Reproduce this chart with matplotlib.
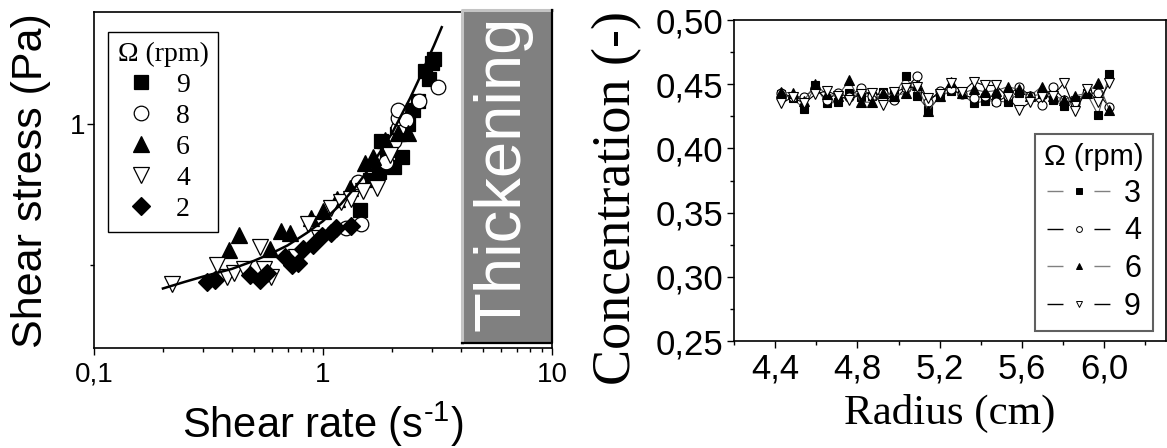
#!/usr/bin/python
# two panel figure: flow curve (left) and concentration profiles (right)
import numpy as np
import matplotlib as mpl
mpl.use('Agg')
import matplotlib.pyplot as plt
from matplotlib.lines import Line2D
from matplotlib.patches import Rectangle
from matplotlib.ticker import FixedLocator, FixedFormatter, NullFormatter, LogLocator

plt.rcParams['font.family'] = ['Liberation Sans', 'DejaVu Sans']
plt.rcParams['mathtext.fontset'] = 'custom'
plt.rcParams['mathtext.rm'] = 'Liberation Sans'

# ---- left panel data: shear stress vs shear rate ----
rate_9 = [1.45, 1.6, 1.75, 1.79, 1.9, 2.04, 2.1, 2.21, 2.34, 2.48, 2.6, 2.78, 2.9, 3.0, 3.05]
tau_9 = [0.655, 0.76, 0.79, 0.92, 0.88, 0.81, 0.95, 0.85, 1.0, 1.07, 1.12, 1.30, 1.25, 1.35, 1.38]
rate_8 = [1.26, 1.42, 1.47, 1.89, 2.05, 2.12, 2.13, 2.13, 2.3, 2.63, 3.18]
tau_8 = [0.60, 0.75, 0.61, 0.83, 0.92, 0.98, 1.03, 1.07, 1.02, 1.12, 1.20]
rate_6 = [0.39, 0.43, 0.585, 0.655, 0.72, 0.89, 1.0, 1.15, 1.31, 1.53, 1.65, 1.86, 2.12, 2.34]
tau_6 = [0.538, 0.58, 0.54, 0.59, 0.585, 0.63, 0.65, 0.69, 0.73, 0.825, 0.85, 0.924, 0.955, 0.955]
rate_4 = [0.218, 0.343, 0.38, 0.41, 0.45, 0.53, 0.55, 0.59, 0.76, 0.86, 0.96, 1.08, 1.2, 1.32, 1.5, 1.72, 1.96]
tau_4 = [0.455, 0.50, 0.47, 0.48, 0.49, 0.545, 0.49, 0.47, 0.52, 0.61, 0.57, 0.66, 0.68, 0.69, 0.72, 0.73, 0.86]
rate_2 = [0.311, 0.337, 0.48, 0.53, 0.57, 0.68, 0.73, 0.78, 0.82, 0.90, 0.99, 1.08, 1.14, 1.33]
tau_2 = [0.46, 0.465, 0.475, 0.465, 0.48, 0.52, 0.50, 0.505, 0.54, 0.55, 0.575, 0.585, 0.60, 0.605]

# fitted curve
fit_rate = [0.20, 0.25, 0.30, 0.40, 0.50, 0.60, 0.70, 0.85, 1.0, 1.2, 1.4, 1.6, 1.8, 2.0, 2.2, 2.4, 2.6, 2.8, 3.05, 3.3]
fit_tau = [0.445, 0.46, 0.472, 0.49, 0.51, 0.53, 0.55, 0.585, 0.62, 0.675, 0.738, 0.805, 0.88, 0.955, 1.045, 1.135, 1.234, 1.34, 1.47, 1.61]

left_labels = ['9', '8', '6', '4', '2']
x1_ticks = [0.1, 1, 10]
x1_ticklabels = ['0,1', '1', '10']
y1_ticks = [1]
y1_ticklabels = ['1']

# ---- right panel data: concentration vs radius ----
radius = [4.43, 4.485, 4.54, 4.595, 4.65, 4.705, 4.76, 4.815, 4.87, 4.925,
          4.98, 5.035, 5.09, 5.145, 5.2, 5.255, 5.31, 5.365, 5.42, 5.475,
          5.53, 5.585, 5.64, 5.695, 5.75, 5.805, 5.86, 5.915, 5.97, 6.025]
conc_3 = [0.442, 0.439, 0.431, 0.449, 0.435, 0.436, 0.443, 0.440, 0.441, 0.444,
          0.442, 0.456, 0.441, 0.430, 0.440, 0.445, 0.442, 0.435, 0.437, 0.437,
          0.436, 0.443, 0.441, 0.442, 0.438, 0.433, 0.438, 0.443, 0.426, 0.458]
conc_4 = [0.443, 0.440, 0.440, 0.447, 0.438, 0.443, 0.440, 0.447, 0.441, 0.443,
          0.438, 0.447, 0.456, 0.436, 0.445, 0.446, 0.442, 0.439, 0.441, 0.436,
          0.441, 0.448, 0.441, 0.434, 0.448, 0.438, 0.435, 0.443, 0.443, 0.432]
conc_6 = [0.444, 0.443, 0.437, 0.450, 0.442, 0.441, 0.453, 0.436, 0.436, 0.443,
          0.441, 0.443, 0.449, 0.429, 0.441, 0.452, 0.443, 0.446, 0.444, 0.445,
          0.448, 0.446, 0.441, 0.448, 0.441, 0.438, 0.441, 0.443, 0.451, 0.430]
conc_9 = [0.435, 0.440, 0.435, 0.442, 0.445, 0.441, 0.438, 0.442, 0.443, 0.434,
          0.444, 0.447, 0.448, 0.439, 0.442, 0.451, 0.444, 0.452, 0.449, 0.449,
          0.440, 0.430, 0.436, 0.440, 0.441, 0.451, 0.429, 0.446, 0.436, 0.451]
right_labels = ['3', '4', '6', '9']
x2_ticks = [4.4, 4.8, 5.2, 5.6, 6.0]
x2_ticklabels = ['4,4', '4,8', '5,2', '5,6', '6,0']
y2_ticks = [0.25, 0.30, 0.35, 0.40, 0.45, 0.50]
y2_ticklabels = ['0,25', '0,30', '0,35', '0,40', '0,45', '0,50']

W, H = 1167, 448
fig = plt.figure(figsize=(W / 100., H / 100.), dpi=100)
fig.patch.set_facecolor('white')

def fx(x):
    return x / float(W)

def fy(y):
    return 1 - y / float(H)

# ================= left panel =================
ax1 = fig.add_axes([fx(94), fy(348), 458. / W, 336. / H])
ax1.set_xscale('log')
ax1.set_yscale('log')

left_rates = [rate_9, rate_8, rate_6, rate_4, rate_2]
left_taus = [tau_9, tau_8, tau_6, tau_4, tau_2]
left_marks = ['s', 'o', '^', 'v', 'D']
left_fill = ['black', 'white', 'black', 'white', 'black']
left_ms = [10, 10.5, 11, 11, 9]
handles1 = []
for r, t, m, fc, ms in zip(left_rates, left_taus, left_marks, left_fill, left_ms):
    h, = ax1.plot(r, t, ls='none', marker=m, ms=ms, mfc=fc, mec='black', mew=0.9, zorder=3)
    handles1.append(h)
ax1.plot(fit_rate, fit_tau, color='black', lw=1.8, zorder=4)

ax1.set_xlim(0.1, 10)
ax1.set_ylim(0.332, 1.735)
ax1.xaxis.set_major_locator(FixedLocator(x1_ticks))
ax1.xaxis.set_major_formatter(FixedFormatter(x1_ticklabels))
ax1.xaxis.set_minor_locator(LogLocator(base=10, subs=np.arange(2, 10)))
ax1.xaxis.set_minor_formatter(NullFormatter())
ax1.yaxis.set_major_locator(FixedLocator(y1_ticks))
ax1.yaxis.set_major_formatter(FixedFormatter(y1_ticklabels))
ax1.yaxis.set_minor_locator(FixedLocator([0.5]))
ax1.yaxis.set_minor_formatter(NullFormatter())
ax1.tick_params(which='both', direction='out', top=False, right=False, width=1.0, labelsize=20)
ax1.tick_params(which='major', length=5)
ax1.tick_params(which='minor', length=3)
ax1.tick_params(axis='x', pad=5)
ax1.tick_params(axis='y', pad=1)
for s in ax1.spines.values():
    s.set_linewidth(1.2)

leg1 = ax1.legend(handles1, left_labels, title=u'\u03a9 (rpm)', loc='upper left',
                  bbox_to_anchor=(fx(108), fy(32)), bbox_transform=fig.transFigure,
                  borderaxespad=0, prop={'family': 'Liberation Serif', 'size': 20},
                  title_fontproperties={'family': 'Liberation Serif', 'size': 20},
                  handlelength=1.65, handletextpad=0.45, borderpad=0.35,
                  labelspacing=0.2, numpoints=1, fancybox=False, framealpha=1,
                  edgecolor='black', alignment='left')
leg1.get_frame().set_linewidth(1.0)

fig.text(fx(31), fy(181), 'Shear stress (Pa)', rotation=90, ha='center', va='center', fontsize=31)
fig.text(fx(323), fy(424), r'Shear rate (s$^{\text{-1}}$)', ha='center', va='center', fontsize=30)

# gray "Thickening" box sitting on the right edge of the left panel
bx0, bx1, by0, by1 = 462, 552, 10, 343
fig.add_artist(Rectangle((fx(bx0), fy(by1)), fx(bx1) - fx(bx0), fy(by0) - fy(by1),
                         transform=fig.transFigure, facecolor='#808080', edgecolor='none', zorder=5))
fig.add_artist(Line2D([fx(bx0), fx(bx0), fx(bx1)], [fy(by1), fy(by0), fy(by0)],
                      transform=fig.transFigure, color='#c4c4c4', lw=2.2, zorder=6))
fig.add_artist(Line2D([fx(bx0), fx(bx1), fx(bx1)], [fy(by1), fy(by1), fy(by0)],
                      transform=fig.transFigure, color='black', lw=1.6, zorder=6))
fig.text(fx(502), fy(173), 'Thickening', rotation=90, color='white', ha='center', va='center',
         fontsize=47, zorder=7)

# ================= right panel =================
ax2 = fig.add_axes([fx(734), fy(341), 432. / W, 321. / H])
right_concs = [conc_3, conc_4, conc_6, conc_9]
right_marks = ['s', 'o', '^', 'v']
right_fill = ['black', 'white', 'black', 'white']
line_cols = ['#505050', 'black', '#505050', 'black']
leg_cols = ['#808080', 'black', '#808080', 'black']
right_ms = [6, 6.5, 7, 7]
for c, m, fc, lc, ms in zip(right_concs, right_marks, right_fill, line_cols, right_ms):
    ax2.plot(radius, c, color=lc, lw=0.8, marker=m, ms=ms, mfc=fc, mec='black', mew=0.8)

ax2.set_xlim(4.2, 6.3)
ax2.set_ylim(0.25, 0.50)
ax2.xaxis.set_major_locator(FixedLocator(x2_ticks))
ax2.xaxis.set_major_formatter(FixedFormatter(x2_ticklabels))
ax2.xaxis.set_minor_locator(FixedLocator(np.arange(4.2, 6.3, 0.4)))
ax2.yaxis.set_major_locator(FixedLocator(y2_ticks))
ax2.yaxis.set_major_formatter(FixedFormatter(y2_ticklabels))
ax2.yaxis.set_minor_locator(FixedLocator(np.arange(0.275, 0.5, 0.05)))
ax2.tick_params(which='both', direction='out', top=False, right=False, width=1.0, labelsize=25)
ax2.tick_params(which='major', length=5)
ax2.tick_params(which='minor', length=3)
ax2.tick_params(axis='x', pad=3)
ax2.tick_params(axis='y', pad=3)
for s in ax2.spines.values():
    s.set_linewidth(1.2)

handles2 = []
for m, fc, lc in zip(right_marks, right_fill, leg_cols):
    handles2.append(Line2D([], [], color=lc, lw=1.0, ls=(0, (11.5, 22.3)), marker=m, ms=4.2,
                           mfc=fc, mec='black', mew=0.7))
leg2 = ax2.legend(handles2, right_labels, title=u'\u03a9 (rpm)', loc='upper right',
                  bbox_to_anchor=(fx(1153), fy(134)), bbox_transform=fig.transFigure,
                  borderaxespad=0, fontsize=22, title_fontsize=21,
                  handlelength=2.06, handletextpad=0.46, borderpad=0.3,
                  labelspacing=0.25, numpoints=1, fancybox=False, framealpha=1,
                  edgecolor='#606060')
leg2.get_frame().set_linewidth(1.5)

fig.text(fx(617), fy(198), 'Concentration (-)', rotation=90, ha='center', va='center',
         fontsize=39, family='Liberation Serif')
fig.text(fx(950), fy(413), 'Radius (cm)', ha='center', va='center', fontsize=31,
         family='Liberation Serif')

fig.savefig('out.png', dpi=100)
